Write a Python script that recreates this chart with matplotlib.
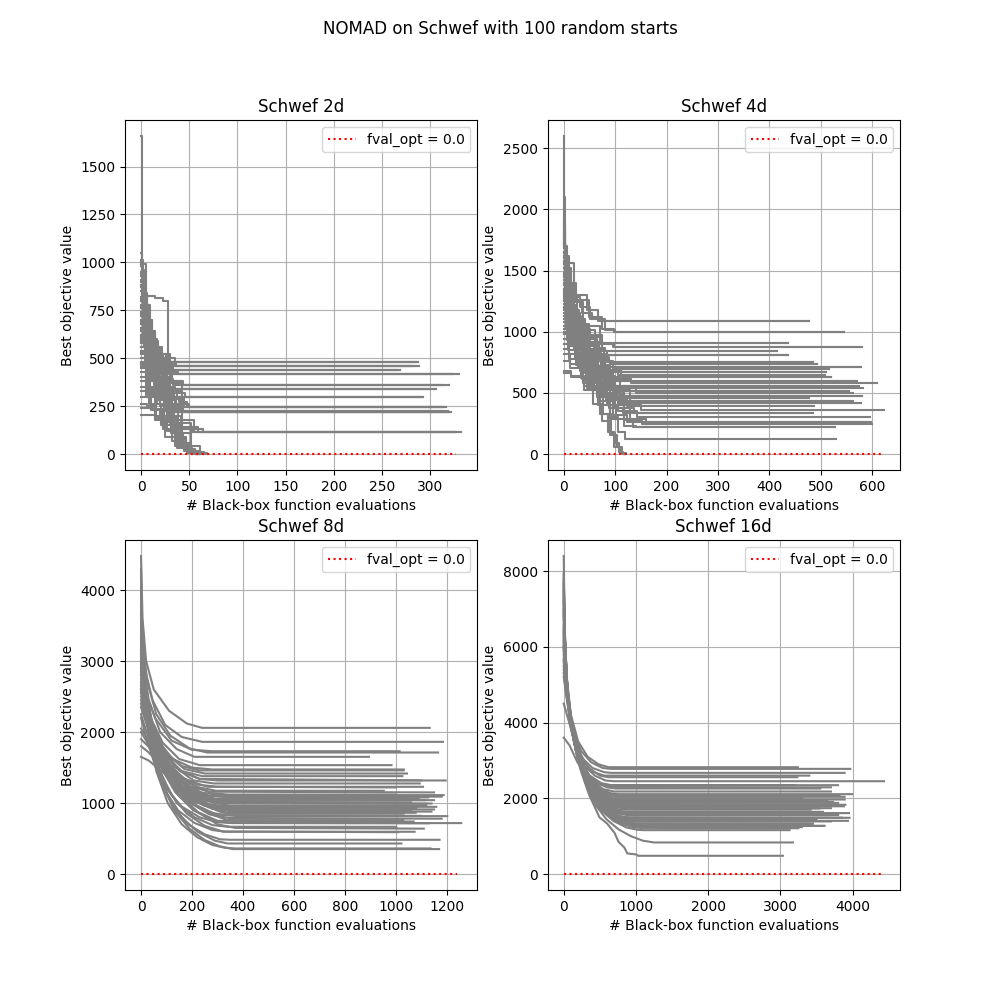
import matplotlib
matplotlib.use("Agg")
import matplotlib.pyplot as plt

# each run is a list of (evaluation, best objective value) knots
RUNS_2D = [
    [(0, 1660), (1, 990), (5, 700), (11, 520), (19, 479), (287, 479)],
    [(0, 870), (4, 824), (14, 812), (23, 800), (28, 479), (285, 479)],
    [(0, 760), (6, 600), (15, 520), (30, 458), (288, 458)],
    [(0, 640), (9, 560), (21, 500), (35, 458), (280, 458)],
    [(0, 720), (5, 590), (18, 470), (33, 439), (269, 439)],
    [(0, 560), (10, 500), (26, 439), (265, 439)],
    [(0, 980), (2, 780), (8, 560), (16, 450), (31, 418), (330, 418)],
    [(0, 610), (7, 480), (22, 418), (322, 418)],
    [(0, 740), (4, 560), (12, 440), (24, 380), (41, 358), (319, 358)],
    [(0, 520), (11, 430), (27, 370), (38, 358), (312, 358)],
    [(0, 690), (6, 520), (17, 400), (30, 341), (306, 341)],
    [(0, 450), (8, 390), (19, 350), (34, 341), (300, 341)],
    [(0, 780), (3, 610), (13, 420), (25, 330), (37, 299), (292, 299)],
    [(0, 580), (9, 410), (20, 330), (31, 299), (290, 299)],
    [(0, 850), (3, 700), (10, 480), (22, 340), (34, 300), (45, 245), (316, 245)],
    [(0, 470), (7, 350), (19, 280), (36, 245), (312, 245)],
    [(0, 660), (5, 470), (14, 330), (28, 260), (40, 218), (319, 218)],
    [(0, 400), (9, 320), (24, 240), (33, 218), (318, 218)],
    [(0, 620), (8, 440), (18, 300), (30, 226), (47, 218), (321, 218)],
    [(0, 205), (6, 205), (15, 180), (26, 150), (40, 130), (55, 117), (326, 117)],
    [(0, 540), (6, 380), (17, 260), (28, 180), (42, 140), (59, 117), (332, 117)],
    [(0, 700), (5, 520), (13, 360), (26, 230), (38, 160), (52, 117), (328, 117)],
    [(0, 930), (2, 720), (7, 480), (15, 300), (24, 170), (35, 80), (47, 20), (55, 3), (62, 0)],
    [(0, 500), (6, 330), (16, 200), (27, 120), (39, 50), (50, 8), (58, 0)],
    [(0, 810), (4, 590), (11, 390), (20, 250), (31, 110), (44, 30), (53, 0)],
    [(0, 350), (8, 260), (21, 150), (32, 70), (45, 15), (60, 0)],
    [(0, 430), (5, 300), (14, 190), (25, 90), (37, 30), (48, 4), (57, 0)],
    [(0, 300), (10, 230), (23, 130), (35, 40), (49, 6), (64, 0)],
    [(0, 900), (3, 650), (9, 470), (18, 360), (29, 300), (41, 245), (314, 245)],
    [(0, 590), (7, 450), (16, 380), (27, 330), (43, 218), (317, 218)],
    [(0, 1010), (2, 830), (6, 620), (12, 500), (24, 458), (284, 458)],
    [(0, 380), (6, 340), (15, 300), (28, 250), (39, 226), (310, 226)],
    [(0, 1000), (1, 920), (4, 780), (9, 640), (15, 560), (22, 500), (29, 479), (287, 479)],
    [(0, 950), (2, 870), (5, 700), (10, 600), (17, 520), (26, 480), (36, 458), (288, 458)],
    [(0, 880), (1, 800), (3, 690), (8, 590), (13, 540), (20, 470), (31, 439), (269, 439)],
    [(0, 820), (2, 740), (6, 640), (12, 560), (19, 470), (27, 430), (38, 418), (330, 418)],
    [(0, 990), (1, 900), (4, 760), (8, 620), (14, 500), (21, 430), (30, 380), (44, 358), (319, 358)],
    [(0, 760), (3, 680), (7, 600), (14, 500), (22, 420), (32, 370), (42, 341), (306, 341)],
    [(0, 940), (2, 820), (6, 700), (11, 560), (18, 440), (26, 350), (35, 320), (46, 299), (292, 299)],
    [(0, 720), (4, 620), (9, 520), (16, 420), (24, 340), (33, 290), (42, 260), (50, 245), (316, 245)],
    [(0, 870), (2, 760), (6, 620), (12, 480), (19, 370), (27, 290), (35, 240), (44, 218), (319, 218)],
    [(0, 650), (3, 560), (8, 470), (15, 380), (23, 300), (32, 240), (43, 180), (55, 130), (64, 117), (332, 117)],
    [(0, 910), (3, 780), (7, 640), (12, 500), (18, 360), (25, 240), (33, 130), (41, 50), (50, 10), (60, 0)],
    [(0, 770), (4, 640), (10, 520), (17, 380), (25, 250), (34, 140), (43, 60), (52, 12), (65, 0)],
    [(0, 560), (4, 480), (10, 400), (18, 300), (27, 190), (37, 90), (47, 25), (56, 2), (66, 0)],
    [(0, 680), (2, 600), (7, 480), (13, 390), (21, 290), (30, 200), (41, 110), (52, 40), (61, 5), (68, 0)],
    [(0, 460), (5, 420), (12, 380), (20, 330), (29, 300), (39, 270), (48, 245), (312, 245)],
    [(0, 330), (7, 310), (16, 280), (27, 250), (37, 226), (318, 226)],
    [(0, 260), (6, 250), (14, 235), (24, 225), (35, 218), (321, 218)],
    [(0, 1050), (1, 960), (3, 840), (6, 700), (10, 600), (16, 520), (23, 479), (285, 479)],
    [(0, 600), (3, 560), (9, 520), (18, 480), (25, 458), (280, 458)],
    [(0, 730), (2, 660), (6, 580), (13, 500), (20, 460), (28, 439), (265, 439)],
    [(0, 530), (5, 500), (12, 470), (20, 440), (30, 418), (322, 418)],
    [(0, 800), (2, 700), (5, 610), (10, 520), (16, 440), (24, 390), (33, 358), (312, 358)],
    [(0, 480), (4, 450), (10, 410), (17, 370), (26, 341), (300, 341)],
    [(0, 620), (3, 560), (8, 480), (14, 400), (21, 340), (29, 299), (290, 299)],
    [(0, 240), (5, 240), (12, 230), (20, 200), (30, 160), (42, 130), (53, 117), (326, 117)],
]

RUNS_4D = [
    [(0, 2600), (1, 1700), (6, 1560), (20, 1300), (45, 1180), (66, 1088), (477, 1088)],
    [(0, 1450), (8, 1400), (24, 1260), (50, 1120), (75, 1020), (98, 995), (545, 995)],
    [(0, 1900), (3, 1520), (15, 1240), (38, 1050), (70, 910), (436, 910)],
    [(0, 1200), (10, 1130), (30, 1010), (60, 900), (95, 872), (580, 872)],
    [(0, 1650), (4, 1380), (18, 1100), (42, 920), (74, 840), (415, 840)],
    [(0, 1080), (12, 990), (35, 900), (68, 812), (436, 812)],
    [(0, 2100), (2, 1620), (10, 1300), (26, 1020), (52, 840), (85, 755), (485, 755)],
    [(0, 980), (9, 900), (28, 820), (58, 760), (90, 733), (493, 733)],
    [(0, 1380), (6, 1200), (22, 1000), (48, 820), (80, 711), (579, 711)],
    [(0, 1720), (3, 1420), (14, 1130), (33, 900), (62, 760), (96, 692), (516, 692)],
    [(0, 1250), (7, 1100), (25, 920), (50, 780), (78, 671), (511, 671)],
    [(0, 900), (11, 820), (32, 740), (66, 680), (105, 646), (509, 646)],
    [(0, 1550), (5, 1320), (20, 1050), (44, 830), (72, 690), (112, 627), (520, 627)],
    [(0, 1150), (8, 1020), (27, 860), (55, 700), (88, 597), (570, 597)],
    [(0, 1800), (2, 1500), (12, 1180), (30, 920), (58, 720), (90, 610), (130, 578), (609, 578)],
    [(0, 1020), (9, 930), (26, 800), (54, 650), (84, 559), (491, 559)],
    [(0, 1320), (6, 1150), (21, 950), (45, 760), (76, 610), (110, 537), (582, 537)],
    [(0, 860), (10, 780), (31, 680), (60, 580), (95, 518), (495, 518)],
    [(0, 1480), (4, 1280), (16, 1040), (38, 820), (66, 640), (100, 540), (140, 496), (563, 496)],
    [(0, 1100), (7, 980), (24, 830), (50, 660), (82, 540), (118, 477), (581, 477)],
    [(0, 760), (13, 700), (36, 610), (70, 520), (102, 458), (478, 458)],
    [(0, 1600), (3, 1380), (13, 1100), (32, 860), (58, 660), (92, 520), (128, 436), (563, 436)],
    [(0, 1280), (6, 1120), (22, 900), (47, 700), (80, 530), (116, 414), (579, 414)],
    [(0, 940), (9, 850), (28, 720), (56, 560), (90, 450), (124, 395), (486, 395)],
    [(0, 1700), (2, 1450), (10, 1160), (27, 900), (50, 680), (80, 500), (112, 400), (150, 360), (623, 360)],
    [(0, 820), (12, 740), (34, 620), (64, 480), (100, 380), (136, 338), (485, 338)],
    [(0, 1180), (5, 1040), (19, 860), (42, 660), (72, 480), (106, 350), (142, 300), (595, 300)],
    [(0, 1420), (4, 1220), (15, 980), (36, 740), (64, 540), (96, 380), (128, 290), (160, 264), (598, 264)],
    [(0, 1000), (8, 900), (26, 740), (52, 560), (84, 400), (118, 280), (152, 243), (600, 243)],
    [(0, 680), (15, 630), (40, 520), (70, 400), (102, 290), (134, 224), (527, 224)],
    [(0, 1350), (5, 1170), (18, 930), (40, 700), (66, 480), (90, 300), (106, 180), (120, 123), (529, 123)],
    [(0, 1520), (3, 1290), (12, 1020), (30, 760), (54, 520), (76, 330), (92, 170), (100, 87), (108, 20), (115, 2), (120, 0)],
    [(0, 1050), (7, 930), (24, 730), (48, 520), (70, 330), (86, 180), (98, 60), (110, 5), (118, 0)],
    [(0, 665), (14, 640), (40, 560), (80, 470), (115, 436), (560, 436)],
    [(0, 1250), (5, 1080), (18, 880), (40, 700), (70, 560), (104, 518), (555, 518)],
    [(0, 1580), (3, 1350), (13, 1080), (34, 840), (62, 650), (96, 559), (575, 559)],
    [(0, 1750), (2, 1600), (6, 1450), (12, 1320), (22, 1250), (35, 1150), (55, 1100), (72, 1088), (477, 1088)],
    [(0, 1620), (3, 1500), (9, 1380), (18, 1280), (32, 1200), (52, 1100), (80, 1010), (100, 995), (545, 995)],
    [(0, 1520), (2, 1380), (8, 1250), (18, 1150), (32, 1060), (50, 970), (75, 910), (436, 910)],
    [(0, 1300), (4, 1220), (12, 1130), (26, 1040), (45, 960), (70, 900), (98, 872), (580, 872)],
    [(0, 1850), (2, 1600), (6, 1400), (14, 1200), (26, 1050), (42, 940), (64, 870), (80, 840), (415, 840)],
    [(0, 1400), (3, 1280), (10, 1150), (22, 1020), (38, 920), (58, 850), (78, 812), (436, 812)],
    [(0, 1950), (1, 1700), (5, 1450), (12, 1220), (24, 1020), (40, 880), (62, 790), (88, 755), (485, 755)],
    [(0, 1150), (5, 1080), (15, 990), (30, 900), (50, 820), (75, 760), (94, 733), (493, 733)],
    [(0, 1680), (2, 1480), (7, 1280), (16, 1080), (30, 920), (50, 800), (72, 730), (90, 711), (579, 711)],
    [(0, 1230), (5, 1120), (15, 1000), (30, 880), (50, 780), (74, 710), (100, 692), (516, 692)],
    [(0, 1560), (3, 1380), (10, 1180), (22, 980), (38, 830), (58, 720), (82, 671), (511, 671)],
    [(0, 1420), (4, 1260), (12, 1080), (26, 900), (44, 760), (66, 670), (95, 627), (520, 627)],
    [(0, 1880), (2, 1620), (7, 1360), (16, 1100), (30, 880), (48, 720), (70, 620), (96, 597), (570, 597)],
    [(0, 1330), (4, 1190), (12, 1020), (25, 860), (42, 720), (62, 620), (88, 559), (491, 559)],
    [(0, 1130), (5, 1040), (14, 920), (28, 790), (46, 670), (68, 570), (96, 518), (495, 518)],
    [(0, 1640), (3, 1420), (10, 1180), (22, 950), (38, 760), (58, 600), (82, 500), (110, 477), (581, 477)],
    [(0, 1460), (3, 1280), (10, 1060), (22, 850), (38, 670), (58, 530), (82, 440), (108, 414), (579, 414)],
    [(0, 1270), (4, 1120), (12, 940), (26, 760), (44, 600), (64, 470), (88, 380), (116, 338), (485, 338)],
    [(0, 1720), (2, 1480), (7, 1220), (16, 980), (30, 760), (48, 580), (70, 430), (96, 320), (124, 264), (598, 264)],
    [(0, 1190), (4, 1060), (13, 880), (28, 700), (46, 540), (66, 400), (90, 290), (118, 230), (140, 224), (527, 224)],
    [(0, 1380), (3, 1210), (10, 1000), (22, 780), (38, 580), (56, 410), (74, 270), (90, 160), (104, 60), (114, 8), (122, 0)],
]

RUNS_8D = [
    [(0, 4480), (6, 3600), (20, 3000), (50, 2600), (110, 2300), (180, 2120), (240, 2059), (1133, 2059)],
    [(0, 3300), (15, 2900), (45, 2450), (95, 2100), (160, 1930), (240, 1862), (1185, 1862)],
    [(0, 3900), (8, 3200), (25, 2700), (60, 2250), (115, 1950), (190, 1770), (260, 1712), (1166, 1712)],
    [(0, 2800), (20, 2550), (55, 2200), (120, 1880), (200, 1750), (280, 1730), (1015, 1730)],
    [(0, 3600), (10, 2950), (30, 2450), (75, 2000), (140, 1760), (210, 1651), (895, 1651)],
    [(0, 3100), (12, 2650), (38, 2200), (85, 1850), (150, 1620), (230, 1534), (983, 1534)],
    [(0, 2500), (22, 2250), (62, 1900), (125, 1620), (200, 1500), (280, 1473), (1031, 1473)],
    [(0, 3750), (7, 3050), (22, 2500), (52, 2000), (100, 1700), (170, 1480), (250, 1416), (1044, 1416)],
    [(0, 2950), (14, 2500), (42, 2050), (92, 1680), (160, 1450), (240, 1379), (1026, 1379)],
    [(0, 4200), (5, 3350), (17, 2700), (42, 2150), (88, 1750), (150, 1460), (230, 1340), (300, 1318), (1196, 1318)],
    [(0, 3400), (10, 2850), (30, 2300), (70, 1850), (128, 1520), (205, 1320), (285, 1276), (1094, 1276)],
    [(0, 2700), (17, 2350), (48, 1950), (100, 1580), (170, 1340), (260, 1229), (1107, 1229)],
    [(0, 3200), (11, 2700), (35, 2200), (78, 1750), (136, 1420), (215, 1230), (295, 1173), (953, 1173)],
    [(0, 3850), (6, 3100), (19, 2500), (46, 1980), (90, 1600), (155, 1320), (235, 1150), (310, 1112), (1188, 1112)],
    [(0, 2600), (19, 2300), (52, 1900), (105, 1500), (180, 1230), (270, 1100), (350, 1079), (1127, 1079)],
    [(0, 3000), (13, 2550), (39, 2080), (86, 1650), (150, 1350), (225, 1130), (305, 1041), (1114, 1041)],
    [(0, 3550), (8, 2900), (24, 2300), (56, 1820), (108, 1430), (180, 1170), (260, 1030), (340, 994), (1140, 994)],
    [(0, 2350), (23, 2100), (60, 1750), (118, 1380), (190, 1120), (270, 980), (360, 947), (1159, 947)],
    [(0, 3150), (10, 2650), (33, 2120), (72, 1680), (126, 1320), (198, 1050), (280, 920), (360, 900), (1061, 900)],
    [(0, 2850), (15, 2420), (44, 1950), (95, 1520), (162, 1200), (245, 980), (335, 863), (1078, 863)],
    [(0, 4050), (5, 3250), (16, 2600), (38, 2050), (78, 1600), (135, 1250), (205, 990), (295, 840), (380, 816), (1202, 816)],
    [(0, 2450), (20, 2200), (55, 1800), (110, 1400), (180, 1060), (260, 860), (340, 760), (1029, 760)],
    [(0, 3450), (8, 2800), (25, 2150), (55, 1600), (100, 1200), (160, 950), (230, 800), (300, 730), (360, 718), (1257, 718)],
    [(0, 2750), (15, 2300), (42, 1800), (85, 1350), (140, 1000), (210, 800), (280, 690), (340, 666), (1002, 666)],
    [(0, 3650), (6, 2900), (20, 2250), (48, 1650), (90, 1200), (145, 900), (210, 720), (280, 620), (330, 596), (1074, 596)],
    [(0, 3050), (11, 2500), (34, 1900), (75, 1350), (125, 950), (185, 700), (250, 560), (310, 490), (350, 483), (1172, 483)],
    [(0, 2200), (22, 1900), (58, 1500), (105, 1100), (160, 800), (220, 600), (290, 470), (340, 431), (1022, 431)],
    [(0, 3350), (8, 2700), (26, 2050), (60, 1450), (105, 1000), (160, 700), (220, 520), (280, 410), (330, 370), (370, 361), (1136, 361)],
    [(0, 2900), (12, 2400), (38, 1850), (80, 1300), (130, 900), (190, 640), (250, 480), (310, 390), (360, 352), (1170, 352)],
    [(0, 3250), (11, 2700), (34, 2180), (78, 1720), (140, 1380), (220, 1120), (300, 1010), (1060, 1010)],
    [(0, 2650), (18, 2300), (52, 1900), (110, 1500), (185, 1200), (275, 1020), (350, 960), (1120, 960)],
    [(0, 3500), (8, 2900), (27, 2330), (62, 1840), (118, 1430), (195, 1110), (285, 920), (360, 880), (1140, 880)],
    [(0, 2550), (20, 2250), (56, 1880), (115, 1520), (190, 1280), (275, 1140), (340, 1120), (1000, 1120)],
    [(0, 3950), (5, 3150), (18, 2550), (44, 2020), (92, 1580), (158, 1230), (240, 980), (320, 865), (380, 850), (1030, 850)],
    [(0, 1800), (28, 1720), (72, 1560), (135, 1360), (210, 1170), (290, 1060), (1090, 1060)],
    [(0, 2050), (23, 1920), (64, 1650), (125, 1350), (200, 1090), (275, 960), (1100, 960)],
    [(0, 1650), (30, 1600), (80, 1450), (150, 1250), (230, 1090), (300, 1041), (1150, 1041)],
    [(0, 3700), (6, 3050), (20, 2500), (48, 2050), (95, 1720), (160, 1520), (230, 1460), (1031, 1460)],
    [(0, 2900), (13, 2500), (40, 2080), (90, 1700), (155, 1450), (230, 1340), (1100, 1320)],
    [(0, 3300), (9, 2780), (29, 2250), (66, 1800), (122, 1450), (195, 1230), (270, 1160), (1150, 1150)],
    [(0, 2400), (20, 2150), (56, 1800), (112, 1460), (185, 1220), (265, 1100), (1180, 1090)],
    [(0, 4300), (4, 3400), (14, 2700), (36, 2100), (78, 1640), (140, 1300), (215, 1080), (290, 1000), (1120, 990)],
    [(0, 3100), (10, 2600), (32, 2080), (72, 1620), (130, 1260), (205, 1020), (285, 940), (1080, 930)],
    [(0, 2600), (16, 2260), (46, 1850), (98, 1450), (168, 1130), (250, 960), (330, 920), (1150, 910)],
    [(0, 3600), (7, 2950), (23, 2350), (54, 1820), (104, 1380), (172, 1060), (250, 880), (330, 830), (1100, 820)],
    [(0, 2250), (22, 2000), (60, 1650), (118, 1290), (190, 1010), (270, 840), (345, 790), (1180, 780)],
    [(0, 3000), (11, 2500), (34, 1980), (76, 1520), (135, 1150), (205, 900), (280, 760), (350, 720), (1130, 715)],
    [(0, 3800), (6, 3100), (20, 2450), (48, 1880), (94, 1430), (155, 1090), (225, 870), (300, 750), (1070, 740)],
    [(0, 2700), (14, 2300), (42, 1850), (90, 1430), (150, 1100), (220, 880), (300, 700), (370, 650), (1110, 640)],
    [(0, 3150), (9, 2600), (29, 2020), (66, 1520), (118, 1120), (180, 850), (250, 680), (320, 600), (1010, 590)],
    [(0, 2000), (25, 1850), (66, 1600), (128, 1330), (205, 1130), (285, 1020), (1060, 1000)],
    [(0, 1900), (28, 1800), (74, 1600), (140, 1400), (220, 1260), (300, 1230), (1000, 1220)],
]

RUNS_16D = [
    [(0, 8400), (12, 6600), (40, 5200), (100, 4200), (200, 3500), (330, 3100), (480, 2900), (620, 2822), (3243, 2822)],
    [(0, 7200), (20, 5900), (60, 4700), (130, 3800), (240, 3250), (380, 2950), (540, 2800), (650, 2778), (3968, 2778)],
    [(0, 6500), (25, 5400), (75, 4300), (150, 3550), (260, 3050), (400, 2800), (560, 2690), (660, 2672), (3890, 2672)],
    [(0, 7800), (15, 6300), (48, 4950), (115, 3900), (220, 3200), (350, 2800), (500, 2600), (620, 2558), (3234, 2558)],
    [(0, 6000), (30, 5100), (85, 4100), (170, 3350), (290, 2850), (430, 2600), (580, 2470), (700, 2452), (4435, 2452)],
    [(0, 7000), (18, 5800), (55, 4600), (125, 3650), (230, 3000), (360, 2600), (520, 2400), (660, 2347), (3798, 2347)],
    [(0, 5600), (35, 4900), (95, 3950), (185, 3200), (300, 2700), (440, 2420), (600, 2290), (720, 2259), (3553, 2259)],
    [(0, 7500), (16, 6100), (50, 4800), (118, 3750), (220, 3000), (350, 2550), (500, 2250), (660, 2130), (760, 2110), (3996, 2110)],
    [(0, 6300), (26, 5300), (78, 4200), (160, 3350), (275, 2750), (410, 2350), (570, 2120), (720, 2040), (3890, 2040)],
    [(0, 6800), (22, 5600), (66, 4450), (145, 3500), (255, 2800), (390, 2350), (550, 2080), (700, 1985), (800, 1969), (3890, 1969)],
    [(0, 5300), (40, 4700), (105, 3800), (200, 3050), (320, 2500), (460, 2150), (620, 1960), (760, 1907), (3728, 1907)],
    [(0, 7100), (18, 5900), (58, 4650), (132, 3600), (240, 2850), (370, 2350), (520, 2030), (680, 1860), (800, 1820), (3867, 1820)],
    [(0, 6100), (28, 5150), (84, 4100), (170, 3250), (285, 2600), (420, 2150), (580, 1880), (740, 1760), (850, 1732), (3543, 1732)],
    [(0, 7700), (14, 6250), (46, 4950), (112, 3800), (210, 2950), (340, 2350), (500, 1950), (670, 1720), (820, 1650), (900, 1644), (3590, 1644)],
    [(0, 6600), (24, 5500), (72, 4350), (155, 3400), (265, 2700), (400, 2150), (560, 1800), (730, 1620), (880, 1556), (3682, 1556)],
    [(0, 5800), (34, 5000), (95, 4000), (190, 3150), (310, 2500), (450, 2000), (610, 1700), (780, 1530), (920, 1486), (3959, 1486)],
    [(0, 7300), (17, 6050), (54, 4800), (125, 3700), (230, 2850), (360, 2250), (520, 1820), (700, 1560), (860, 1430), (950, 1406), (3936, 1406)],
    [(0, 6400), (26, 5400), (78, 4300), (165, 3300), (280, 2600), (420, 2050), (580, 1680), (760, 1450), (920, 1350), (1000, 1336), (3451, 1336)],
    [(0, 6900), (20, 5750), (62, 4550), (140, 3500), (250, 2700), (385, 2100), (545, 1700), (720, 1440), (900, 1300), (1000, 1275), (3613, 1275)],
    [(0, 5500), (38, 4800), (102, 3900), (200, 3050), (330, 2400), (470, 1950), (630, 1600), (800, 1380), (960, 1260), (1060, 1231), (3137, 1231)],
    [(0, 7600), (15, 6250), (50, 4950), (118, 3800), (220, 2900), (350, 2200), (510, 1700), (690, 1400), (870, 1230), (1020, 1170), (1100, 1160), (3128, 1160)],
    [(0, 6200), (27, 5250), (82, 4200), (172, 3200), (290, 2450), (430, 1850), (590, 1450), (760, 1180), (930, 1000), (1100, 880), (1250, 835), (3174, 835)],
    [(0, 7400), (17, 6100), (52, 4850), (122, 3700), (225, 2800), (350, 2100), (494, 1500), (600, 1336), (700, 1100), (760, 850), (840, 700), (880, 545), (1000, 520), (1030, 483), (3035, 483)],
    [(0, 6700), (22, 5600), (66, 4450), (145, 3500), (255, 2850), (390, 2450), (550, 2240), (700, 2180), (3700, 2180)],
    [(0, 5900), (32, 5050), (90, 4050), (180, 3200), (300, 2600), (440, 2200), (600, 1970), (760, 1880), (3800, 1880)],
    [(0, 7900), (13, 6400), (44, 5050), (108, 3850), (205, 2950), (330, 2300), (490, 1880), (660, 1670), (800, 1600), (3750, 1600)],
    [(0, 6350), (26, 5350), (78, 4250), (160, 3350), (275, 2750), (410, 2300), (570, 2050), (720, 1950), (3650, 1950)],
    [(0, 5700), (36, 4950), (98, 4000), (192, 3150), (310, 2500), (450, 2050), (610, 1800), (770, 1700), (3420, 1700)],
    [(0, 7000), (19, 5850), (58, 4650), (130, 3650), (235, 2950), (365, 2450), (520, 2150), (680, 2000), (3300, 2000)],
    [(0, 6050), (29, 5150), (86, 4100), (175, 3200), (295, 2500), (435, 1980), (595, 1650), (770, 1490), (900, 1450), (3500, 1450)],
    [(0, 5200), (44, 4600), (115, 3750), (215, 3000), (340, 2450), (480, 2080), (640, 1870), (800, 1790), (3880, 1790)],
    [(0, 6550), (25, 5500), (74, 4400), (158, 3450), (270, 2750), (405, 2200), (565, 1850), (740, 1660), (880, 1610), (3950, 1610)],
    [(0, 4500), (60, 4100), (150, 3500), (260, 3000), (400, 2700), (560, 2600), (3400, 2600)],
    [(0, 3600), (80, 3400), (190, 2950), (320, 2600), (470, 2400), (620, 2350), (3200, 2350)],
    [(0, 7950), (13, 6450), (43, 5100), (106, 3950), (205, 3150), (330, 2650), (480, 2380), (640, 2300), (3700, 2290)],
    [(0, 6250), (27, 5300), (80, 4250), (165, 3400), (280, 2800), (415, 2400), (575, 2150), (730, 2080), (3820, 2070)],
    [(0, 7250), (17, 6000), (54, 4750), (125, 3700), (232, 2950), (362, 2450), (515, 2130), (680, 1960), (780, 1940), (3600, 1930)],
    [(0, 5650), (37, 4950), (100, 4000), (195, 3200), (318, 2600), (460, 2180), (620, 1930), (780, 1840), (3900, 1830)],
    [(0, 6850), (21, 5700), (64, 4500), (142, 3500), (252, 2800), (388, 2300), (545, 1970), (710, 1780), (840, 1750), (3700, 1740)],
    [(0, 6000), (31, 5100), (90, 4050), (180, 3200), (300, 2550), (440, 2080), (600, 1760), (770, 1600), (900, 1570), (3800, 1560)],
    [(0, 7450), (16, 6100), (51, 4850), (120, 3750), (222, 2900), (350, 2280), (505, 1850), (680, 1590), (840, 1500), (3850, 1490)],
    [(0, 6450), (25, 5450), (76, 4350), (162, 3350), (278, 2650), (418, 2100), (578, 1720), (750, 1480), (910, 1400), (3700, 1390)],
    [(0, 5400), (42, 4750), (110, 3850), (210, 3050), (335, 2400), (478, 1950), (640, 1620), (810, 1420), (970, 1340), (3400, 1330)],
    [(0, 7650), (14, 6250), (47, 4950), (114, 3800), (214, 2930), (344, 2300), (504, 1800), (680, 1490), (860, 1320), (1000, 1280), (3600, 1270)],
    [(0, 6150), (28, 5200), (84, 4150), (172, 3250), (290, 2550), (430, 1980), (592, 1590), (765, 1360), (935, 1250), (1060, 1220), (3250, 1210)],
    [(0, 6950), (20, 5800), (62, 4600), (140, 3550), (250, 2750), (382, 2150), (540, 1720), (715, 1440), (890, 1290), (1020, 1250), (3300, 1240)],
    [(0, 5950), (33, 5100), (94, 4050), (188, 3200), (306, 2500), (445, 1980), (605, 1620), (778, 1400), (950, 1300), (3450, 1290)],
    [(0, 7150), (19, 5950), (57, 4700), (130, 3650), (238, 2850), (370, 2300), (525, 1950), (690, 1780), (3500, 1770)],
]

TITLES = ["Schwef 2d", "Schwef 4d", "Schwef 8d", "Schwef 16d"]
OPT_END = [327, 617, 1240, 4389]
FVAL_OPT = 0.0


def plot_runs(ax, runs, title, opt_end, step):
    for run in runs:
        xs = [p[0] for p in run]
        ys = [p[1] for p in run]
        if step:
            ax.plot(xs, ys, color="grey", drawstyle="steps-post")
        else:
            ax.plot(xs, ys, color="grey")
    ax.plot([0, opt_end], [FVAL_OPT, FVAL_OPT], "r:", label="fval_opt = %.1f" % FVAL_OPT)
    ax.set_title(title)
    ax.set_xlabel("# Black-box function evaluations")
    ax.set_ylabel("Best objective value")
    ax.grid(True)
    ax.legend(loc="upper right")


def main():
    fig, axes = plt.subplots(2, 2, figsize=(10, 10))
    all_runs = [RUNS_2D, RUNS_4D, RUNS_8D, RUNS_16D]
    steps = [True, True, False, False]
    for ax, runs, title, end, step in zip(axes.flat, all_runs, TITLES, OPT_END, steps):
        plot_runs(ax, runs, title, end, step)
    fig.suptitle("NOMAD on Schwef with 100 random starts")
    fig.savefig("out.png", dpi=100)
    plt.close(fig)


main()
